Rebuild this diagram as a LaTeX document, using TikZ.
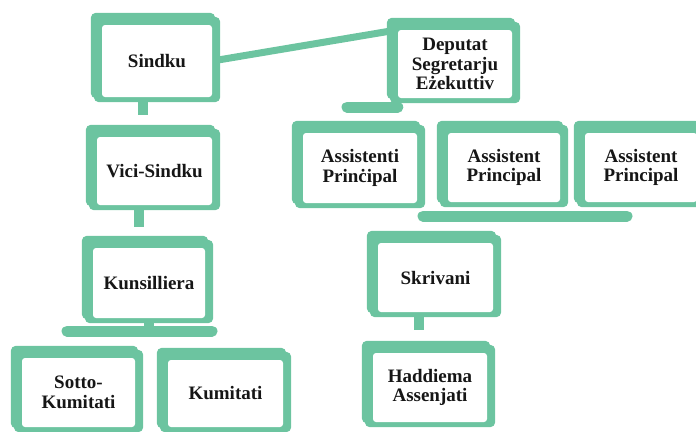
\documentclass[tikz,border=0pt]{standalone}
\usepackage{fontspec}
\setmainfont{Liberation Serif}
\usetikzlibrary{calc,backgrounds}
\definecolor{orggreen}{RGB}{108,196,160}
\definecolor{orgtext}{RGB}{22,22,22}
\def\frameof(#1){%
  \fill[orggreen,rounded corners=5pt] ($(#1.north west)+(-11,-12)$) rectangle ($(#1.south east)+(3,1)$);
  \fill[orggreen,rounded corners=5pt] ($(#1.north west)+(-8,-8)$) rectangle ($(#1.south east)+(8,5)$);}

\begin{document}
\begin{tikzpicture}[x=1pt,y=-1pt,
    unit/.style={fill=white, rounded corners=3pt, align=center, inner sep=0pt,
      text=orgtext, font=\bfseries\fontsize{19}{19.5}\selectfont},
    unitsize/.style 2 args={minimum width=#1pt, minimum height=#2pt},
    stub/.style={orggreen, line width=10pt},
    bar/.style={orggreen, line width=11pt, line cap=round},
    tie/.style={orggreen, line width=7pt}]
		%%%%% START %%%%%
		\useasboundingbox (0,0) rectangle (696,431);
		
		% left column
		\node[unit, unitsize={110}{72}] (sindku) at (157,61) {Sindku};
		\node[unit, unitsize={115}{68}] (vici) at (154.5,171) {Vici-Sindku};
		\node[unit, unitsize={112}{70}] (kuns) at (149,283) {Kunsilliera};
		\node[unit, unitsize={113}{69}] (sotto) at (78.5,392.5) {Sotto-\\Kumitati};
		\node[unit, unitsize={115}{67}] (kumitati) at (225.5,393.5) {Kumitati};
		
		% right column
		\node[unit, unitsize={114}{68}] (deputat) at (455,64) {Deputat\\Segretarju\\Eżekuttiv};
		\node[unit, unitsize={114}{70}] (ass1) at (360,168) {Assistenti\\Prinċipal};
		\node[unit, unitsize={112}{69}] (ass2) at (504,167.5) {Assistent\\Principal};
		\node[unit, unitsize={112}{69}] (ass3) at (641,167.5) {Assistent\\Principal};
		\node[unit, unitsize={115}{69}] (skriv) at (435.5,277.5) {Skrivani};
		\node[unit, unitsize={114}{69}] (hadd) at (430,387.5) {Haddiema\\Assenjati};
		
		\coordinate (kbar-w) at (67,331);
		\coordinate (kbar-e) at (212,331);
		\coordinate (dbar) at (347,107);
		\coordinate (abar-w) at (423,216);
		\coordinate (abar-e) at (627,216);
		
		\begin{scope}[on background layer]
		\draw[tie] (sindku.east) -- (deputat.north west);
		
		\draw[stub, shorten >=22pt] ([xshift=-14pt]sindku.south) -- ([xshift=-14pt]sindku.south |- vici.north);
		\draw[stub, shorten >=21pt] ([xshift=-15.5pt]vici.south) -- ([xshift=-15.5pt]vici.south |- kuns.north);
		\draw[stub, shorten >=23pt] ([xshift=-16.5pt]skriv.south) -- ([xshift=-16.5pt]skriv.south |- hadd.north);
		
		\draw[stub] (kuns.south) -- (kuns.south |- kbar-w);
		\draw[bar] (kbar-w) -- (kbar-e);
		\draw[bar] (dbar) -- (dbar -| deputat.west);
		\draw[bar] (abar-w) -- (abar-e);
		
		\foreach \n in {sindku,vici,kuns,sotto,kumitati,deputat,ass1,ass2,ass3,skriv,hadd}
			{\frameof(\n)}
		\end{scope}
		%%%%% END %%%%%
\end{tikzpicture}
\end{document}
